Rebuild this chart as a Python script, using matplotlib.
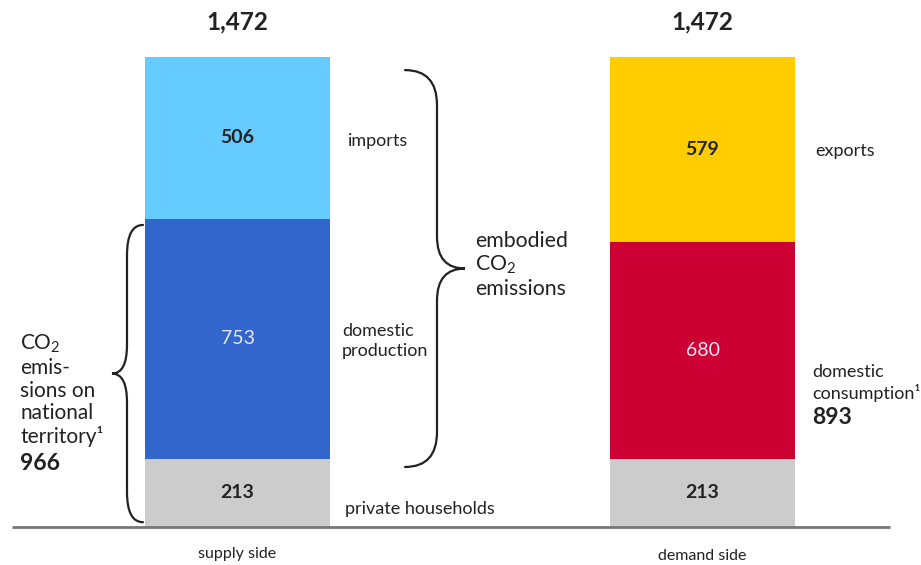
import matplotlib
matplotlib.use("Agg")
import matplotlib.pyplot as plt
from matplotlib.path import Path
from matplotlib.patches import PathPatch

plt.rcParams['font.family'] = ['Lato', 'DejaVu Sans']
plt.rcParams['mathtext.fontset'] = 'custom'
plt.rcParams['mathtext.rm'] = 'Lato'
plt.rcParams['mathtext.it'] = 'Lato'
plt.rcParams['mathtext.bf'] = 'Lato:bold'

# ---- data ----
bars = ["supply side", "demand side"]
households = [213, 213]
middle = [753, 680]          # domestic production / domestic consumption
top = [506, 579]             # imports / exports
totals = [1472, 1472]
middle_colors = ["#3366CC", "#CC0033"]
top_colors = ["#66CCFF", "#FFCC00"]
gray = "#CCCCCC"
national_territory = 966
domestic_consumption = 893

TXT = "#222222"

fig = plt.figure(figsize=(9.21, 5.65), dpi=100)
ax = fig.add_axes([0, 0, 1, 1])
scale = 470 / 1472.0
ax.set_ylim(-38 / scale, 527 / scale)
ax.set_xlim(-237.5 / 465, (921 - 237.5) / 465)
ax.axis("off")

x = [0, 1]
w = 185 / 465
ax.bar(x, households, width=w, color=gray, linewidth=0)
ax.bar(x, middle, bottom=households, width=w, color=middle_colors, linewidth=0)
bot2 = [h + m for h, m in zip(households, middle)]
ax.bar(x, top, bottom=bot2, width=w, color=top_colors, linewidth=0)

# baseline
ax.plot([(12 - 237.5) / 465, (890 - 237.5) / 465], [0, 0], color="#777777", lw=2, solid_capstyle="butt")

fs = 13
nfs = 14
sub_y = [-83, -90]
for i in range(2):
    ax.text(x[i], totals[i] + 110, f"{totals[i]:,}", ha="center", va="center",
            fontsize=17.5, fontweight="bold", color=TXT)
    ax.text(x[i], households[i] / 2, f"{households[i]}", ha="center", va="center",
            fontsize=nfs, fontweight="bold", color=TXT)
    ax.text(x[i], households[i] + middle[i] / 2, f"{middle[i]}", ha="center", va="center",
            fontsize=nfs, color="#E6E6F8")
    ax.text(x[i], bot2[i] + top[i] / 2, f"{top[i]}", ha="center", va="center",
            fontsize=nfs, fontweight="bold", color=TXT)
    ax.text(x[i], sub_y[i], bars[i], ha="center", va="center", fontsize=11.5, color=TXT)


def px(v):
    return (v - 237.5) / 465


def brace(x_spine, x_tip, x_end, y0, y1, r_end, r_tip):
    ym = (y0 + y1) / 2
    verts = [
        (x_end, y1), (x_spine, y1), (x_spine, y1 - r_end),
        (x_spine, ym + r_tip), (x_spine, ym), (x_tip, ym),
        (x_spine, ym), (x_spine, ym - r_tip),
        (x_spine, y0 + r_end), (x_spine, y0), (x_end, y0),
    ]
    codes = [Path.MOVETO, Path.CURVE3, Path.CURVE3,
             Path.LINETO, Path.CURVE3, Path.CURVE3,
             Path.CURVE3, Path.CURVE3,
             Path.LINETO, Path.CURVE3, Path.CURVE3]
    ax.add_patch(PathPatch(Path(verts, codes), fill=False, lw=1.6, edgecolor="#222222",
                           capstyle="round"))


# left brace: national territory (households + domestic production)
brace(px(127), px(112), px(143), 15, national_territory - 20, 95, 90)
# right brace: embodied emissions
brace(px(437), px(465), px(405), 188, 1431, 110, 100)

# labels right of supply bar
ax.text(px(348), (527 - 141) / scale, "imports", ha="left", va="center", fontsize=fs, color=TXT)
ax.text(px(342), (527 - 341) / scale, "domestic\nproduction", ha="left", va="center",
        fontsize=fs, color=TXT, linespacing=1.25)
ax.text(px(345), (527 - 509) / scale, "private households", ha="left", va="center",
        fontsize=fs, color=TXT)
ax.text(px(475), (527 - 265) / scale, "embodied\nCO$_2$\nemissions", ha="left", va="center",
        fontsize=15.3, color=TXT, linespacing=1.15)
ax.text(px(815), (527 - 151) / scale, "exports", ha="left", va="center", fontsize=fs, color=TXT)
ax.text(px(812), (527 - 383) / scale, "domestic\nconsumption\u00b9", ha="left", va="center",
        fontsize=fs, color=TXT, linespacing=1.25)
ax.text(px(812), (527 - 417) / scale, f"{domestic_consumption}", ha="left", va="center",
        fontsize=16.5, fontweight="bold", color=TXT)
ax.text(px(20), (527 - 390) / scale, "CO$_2$\nemis-\nsions on\nnational\nterritory\u00b9",
        ha="left", va="center", fontsize=15, color=TXT, linespacing=1.17)
ax.text(px(20), (527 - 463) / scale, f"{national_territory}", ha="left", va="center",
        fontsize=16.5, fontweight="bold", color=TXT)

fig.savefig("out.png", dpi=100)
